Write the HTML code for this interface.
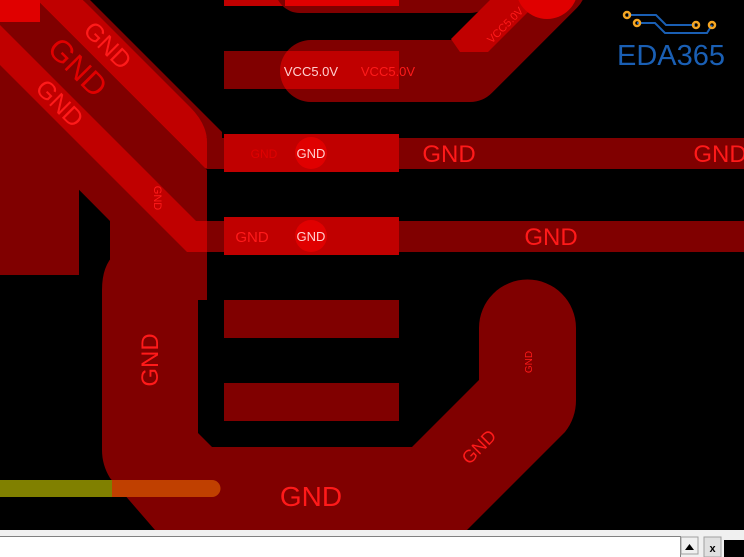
<!DOCTYPE html>
<html><head><meta charset="utf-8"><style>
html,body{margin:0;padding:0;background:#000;width:744px;height:557px;overflow:hidden}
svg{display:block}
text{font-family:"Liberation Sans",sans-serif}
</style></head><body>
<svg width="744" height="557" viewBox="0 0 744 557" xmlns="http://www.w3.org/2000/svg">
<defs>
<clipPath id="vcc"><path d="M311,40 L470,40 L470,102 L311,102 A31,31 0 0 1 311,40 Z"/></clipPath>
</defs>
<rect width="744" height="557" fill="#000"/>
<!-- left dark block -->
<polygon points="0,60 79,140 79,275 0,275" fill="#800000"/>
<!-- dark between bands -->
<polygon points="37,0 207,170 207,300 110,300 110,221 0,110 0,20" fill="#800000"/>
<!-- pour -->
<path d="M150,243 L198,243 L198,433 L212,447 L412,447 L479,380 L479,328 A48,48 0 0 1 576,328 L576,400 Q576,418 565,432 L467,530 L155,530 L110,478 Q102,465 102,450 L102,290 Q102,243 150,243 Z" fill="#800000"/>
<!-- GND horizontal traces -->
<rect x="200" y="138" width="544" height="31" fill="#800000"/>
<rect x="190" y="221" width="554" height="31" fill="#800000"/>
<rect x="190" y="221" width="17" height="31" fill="#c00000"/>
<!-- thin dark edge of band A -->
<polygon points="83,0 90,0 222,132 222,138 207,138" fill="#800000"/>
<!-- bright diagonal band A -->
<path d="M37,0 L83,0 L190,107 Q207,124 207,142 L207,168 L205,168 Z" fill="#c00000"/>
<!-- bright band B -->
<polygon points="0,25 0,65 187,252 207,252 207,221 196,221" fill="#c00000"/>
<rect x="0" y="0" width="40" height="22" fill="#e00000"/>
<!-- pads -->
<rect x="224" y="0" width="175" height="6" fill="#c00000"/>
<rect x="224" y="51" width="175" height="38" fill="#800000"/>
<rect x="224" y="134" width="175" height="38" fill="#c00000"/>
<rect x="224" y="217" width="175" height="38" fill="#c00000"/>
<rect x="224" y="300" width="175" height="38" fill="#800000"/>
<rect x="224" y="383" width="175" height="38" fill="#800000"/>
<!-- VCC traces -->
<path d="M300,-12 L470,-12" stroke="#800000" stroke-width="50" stroke-linecap="round"/>
<path d="M311,71 L470,71 L555,-14" stroke="#800000" stroke-width="62" stroke-linecap="round" stroke-linejoin="round" fill="none"/>
<rect x="224" y="51" width="175" height="38" fill="#c00000" clip-path="url(#vcc)"/>
<rect x="285" y="0" width="114" height="6" fill="#e00000"/>
<polygon points="451,39 490,0 540,0 488,52 460,52" fill="#c00000"/>
<circle cx="547" cy="-12" r="31" fill="#e00000"/>
<!-- vias -->
<circle cx="311" cy="153" r="16" fill="#e00000"/>
<circle cx="311" cy="236" r="16" fill="#e00000"/>
<!-- yellow trace -->
<rect x="0" y="480" width="112" height="17" fill="#808000"/>
<path d="M112,480 L212,480 A8.5,8.5 0 0 1 212,497 L112,497 Z" fill="#c04000"/>
<!-- labels -->
<g fill="#ff1a1a">
<text x="108" y="54" font-size="25" text-anchor="middle" transform="rotate(45 108 45)">GND</text>
<text x="78" y="78" font-size="31" text-anchor="middle" fill="#e00000" transform="rotate(45 78 67)">GND</text>
<text x="60" y="112" font-size="25" text-anchor="middle" transform="rotate(45 60 103)">GND</text>
<text x="388" y="76" font-size="13" text-anchor="middle">VCC5.0V</text>
<text x="264" y="158" font-size="12" text-anchor="middle" fill="#e00000">GND</text>
<text x="449" y="162" font-size="24" text-anchor="middle">GND</text>
<text x="720" y="162" font-size="24" text-anchor="middle">GND</text>
<text x="252" y="242" font-size="15" text-anchor="middle">GND</text>
<text x="551" y="245" font-size="24" text-anchor="middle">GND</text>
<text x="149" y="369" font-size="24" text-anchor="middle" transform="rotate(-90 149 360)">GND</text>
<text x="158" y="202" font-size="11" text-anchor="middle" transform="rotate(90 158 198)">GND</text>
<text x="528" y="366" font-size="10" text-anchor="middle" transform="rotate(-90 528 362)">GND</text>
<text x="479" y="453" font-size="18" text-anchor="middle" transform="rotate(-45 479 447)">GND</text>
<text x="311" y="506" font-size="28" text-anchor="middle">GND</text>
<text x="505" y="29" font-size="11" text-anchor="middle" transform="rotate(-45 505 25)">VCC5.0V</text>
</g>
<g fill="#ffd0d0">
<text x="311" y="76" font-size="13" text-anchor="middle">VCC5.0V</text>
<text x="311" y="158" font-size="13" text-anchor="middle">GND</text>
<text x="311" y="241" font-size="13" text-anchor="middle">GND</text>
</g>
<!-- logo -->
<g fill="none" stroke="#1a5fb4" stroke-width="2">
<path d="M628,15 L656,15 L666,25 L695,25"/>
<path d="M637,23 L655,23 L665,33 L707,33 L712,25"/>
</g>
<g fill="none" stroke="#f5a623" stroke-width="2.5">
<circle cx="627" cy="15" r="3"/><circle cx="637" cy="23" r="3"/>
<circle cx="696" cy="25" r="3"/><circle cx="712" cy="25" r="3"/>
</g>
<text x="617" y="65" font-size="29" fill="#1a5fb4">EDA365</text>
<!-- bottom bar -->
<rect x="0" y="530" width="744" height="27" fill="#f0f0f0"/>
<rect x="0" y="536" width="680" height="21" fill="#fff"/>
<line x1="0" y1="536.5" x2="680" y2="536.5" stroke="#808080"/>
<line x1="680.5" y1="536" x2="680.5" y2="557" stroke="#808080"/>
<rect x="681" y="537" width="17" height="17" fill="#f0f0f0" stroke="#a0a0a0"/>
<polygon points="685,550 694,550 689.5,544" fill="#000"/>
<rect x="704" y="537" width="17" height="20" fill="#e0e0e0" stroke="#a0a0a0"/>
<text x="712.5" y="552" font-size="11" font-weight="bold" text-anchor="middle" fill="#000">x</text>
<rect x="724" y="540" width="20" height="17" fill="#000"/>
</svg>
</body></html>
